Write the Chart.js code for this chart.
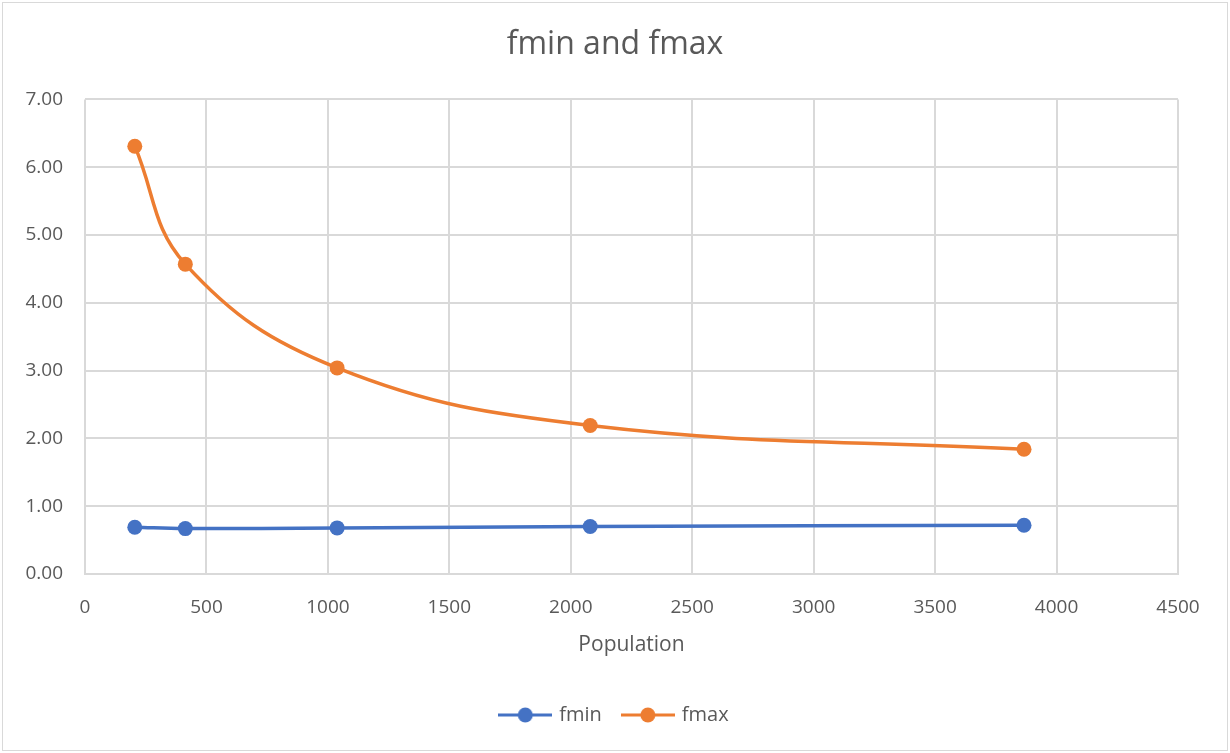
<!DOCTYPE html>
<html>
<head>
<meta charset="utf-8">
<script src="https://cdn.jsdelivr.net/npm/chart.js@4"></script>
<style>
  html, body { margin: 0; padding: 0; background: #fff; }
  #wrap { width: 1230px; height: 753px; }
</style>
</head>
<body>
<div id="wrap"><canvas id="myChart" width="1230" height="753"></canvas></div>
<script>
// data
const population = [205, 413, 1038, 2080, 3866];
const fmin = [0.69, 0.67, 0.68, 0.70, 0.72];
const fmax = [6.31, 4.57, 3.04, 2.19, 1.84];
const seriesNames = ['fmin', 'fmax'];
const seriesColors = ['#4472c4', '#ed7d31'];

const textColor = '#595959';
const gridColor = '#d9d9d9';
const fontFamily = "'Open Sans', 'Noto Sans', sans-serif";

// legend marker: line with a dot in the middle, like excel
function legendMarker(color) {
    const c = document.createElement('canvas');
    c.width = 54;
    c.height = 16;
    const ctx = c.getContext('2d');
    ctx.strokeStyle = color;
    ctx.lineWidth = 3;
    ctx.beginPath();
    ctx.moveTo(0, 8);
    ctx.lineTo(54, 8);
    ctx.stroke();
    ctx.fillStyle = color;
    ctx.beginPath();
    ctx.arc(27, 8, 7.5, 0, Math.PI * 2);
    ctx.fill();
    return c;
}

const toPoints = (ys) => population.map((x, i) => ({ x: x, y: ys[i] }));

const data = {
    datasets: [fmin, fmax].map((ys, i) => ({
        label: seriesNames[i],
        data: toPoints(ys),
        borderColor: seriesColors[i],
        backgroundColor: seriesColors[i],
        borderWidth: 3.5,
        pointRadius: 7.5,
        pointHoverRadius: 7.5,
        pointBorderWidth: 0,
        showLine: true,
        tension: 0.4,
    })),
};

// white background + thin border round the whole chart
const frame = {
    id: 'frame',
    beforeDraw(chart) {
        const ctx = chart.ctx;
        ctx.save();
        ctx.fillStyle = '#fff';
        ctx.fillRect(0, 0, chart.width, chart.height);
        ctx.strokeStyle = '#d9d9d9';
        ctx.lineWidth = 1;
        ctx.strokeRect(2.5, 2.5, chart.width - 5, chart.height - 5);
        ctx.restore();
    }
};

const config = {
    type: 'scatter',
    data: data,
    plugins: [frame],
    options: {
        responsive: false,
        animation: false,
        layout: { padding: { left: 0, right: 0, top: 0, bottom: 18 } },
        plugins: {
            title: {
                display: true,
                text: 'fmin and fmax',
                color: textColor,
                font: { family: fontFamily, size: 32, weight: 'normal' },
                padding: { top: 26, bottom: 35 },
            },
            legend: {
                position: 'bottom',
                labels: {
                    color: textColor,
                    font: { family: fontFamily, size: 20 },
                    usePointStyle: true,
                    pointStyleWidth: 48,
                    boxHeight: 16,
                    padding: 22,
                    generateLabels(chart) {
                        return chart.data.datasets.map((ds, i) => ({
                            text: ds.label,
                            fontColor: textColor,
                            pointStyle: legendMarker(ds.borderColor),
                            datasetIndex: i,
                            hidden: !chart.isDatasetVisible(i),
                            lineWidth: 0,
                        }));
                    },
                },
            },
            tooltip: { enabled: false },
        },
        scales: {
            x: {
                type: 'linear',
                min: 0,
                max: 4500,
                ticks: {
                    stepSize: 500,
                    color: textColor,
                    padding: 22,
                    font: { family: fontFamily, size: 19 },
                    maxRotation: 0,
                    callback: (v) => String(v),
                },
                grid: { color: gridColor, lineWidth: 2, drawTicks: false },
                border: { color: gridColor, width: 2 },
                title: {
                    display: true,
                    text: 'Population',
                    color: textColor,
                    font: { family: fontFamily, size: 21 },
                    padding: { top: 10, bottom: 25 },
                },
                afterFit(scale) { scale.height = 109; },
            },
            y: {
                min: 0,
                max: 7,
                ticks: {
                    stepSize: 1,
                    color: textColor,
                    padding: 22,
                    font: { family: fontFamily, size: 19 },
                    callback: (v) => v.toFixed(2),
                },
                grid: { color: gridColor, lineWidth: 2, drawTicks: false },
                border: { display: false },
                afterFit(scale) { scale.width = 85; },
            },
            // empty right-hand axis, only keeps the right margin so title/legend centre on the full width
            yRight: {
                position: 'right',
                min: 0,
                max: 7,
                ticks: { display: false },
                grid: { display: false },
                border: { display: false },
                afterFit(scale) { scale.width = 52; },
            },
        },
    },
};

const myChart = new Chart(document.getElementById('myChart'), config);
</script>
</body>
</html>
